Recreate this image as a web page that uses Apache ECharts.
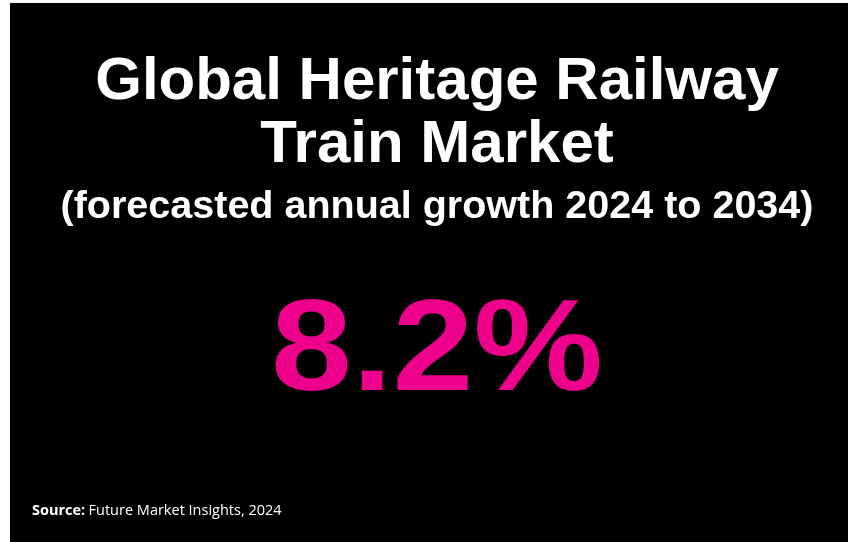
<!DOCTYPE html>
<html>
<head>
<meta charset="utf-8">
<script src="https://cdn.jsdelivr.net/npm/echarts@6/dist/echarts.min.js"></script>
<style>
html,body{margin:0;padding:0;background:#fff;}
#main{width:848px;height:542px;}
</style>
</head>
<body>
<div id="main"></div>
<script>
const titleLines = ["Global Heritage Railway", "Train Market"];
const subtitleText = ["(forecasted annual growth 2024 to 2034)"];
const growthValues = [8.2];
const valueSuffix = ["%"];
const sourceLabel = ["Source:"];
const sourceText = ["Future Market Insights, 2024"];

const FONT = '"Liberation Sans", Arial, sans-serif';
const cx = 437;
const chart = echarts.init(document.getElementById('main'), null, {renderer: 'canvas'});
const option = {
  backgroundColor: '#ffffff',
  animation: false,
  graphic: [
    {type: 'rect', shape: {x: 10, y: 3, width: 838, height: 539}, style: {fill: '#000000'}},
    {type: 'text', x: cx, y: 82, style: {text: titleLines[0], fill: '#ffffff', font: 'bold 60px ' + FONT, align: 'center', verticalAlign: 'middle'}},
    {type: 'text', x: cx, y: 145, style: {text: titleLines[1], fill: '#ffffff', font: 'bold 60px ' + FONT, align: 'center', verticalAlign: 'middle'}},
    {type: 'text', x: cx, y: 207, style: {text: subtitleText[0], fill: '#ffffff', font: 'bold 39.5px ' + FONT, align: 'center', verticalAlign: 'middle'}},
    {type: 'text', x: cx, y: 354, scaleX: 1.12, style: {text: growthValues[0].toFixed(1) + valueSuffix[0], fill: '#EC008C', font: 'bold 130px ' + FONT, align: 'center', verticalAlign: 'middle'}},
    {type: 'text', x: 32, y: 511, style: {
      text: '{b|' + sourceLabel[0] + '} {r|' + sourceText[0] + '}',
      verticalAlign: 'middle',
      rich: {
        b: {font: 'bold 14.5px "Open Sans"', fill: '#ffffff'},
        r: {font: '14.5px "Open Sans"', fill: '#ffffff'}
      }
    }}
  ]
};
chart.setOption(option);
</script>
</body>
</html>
